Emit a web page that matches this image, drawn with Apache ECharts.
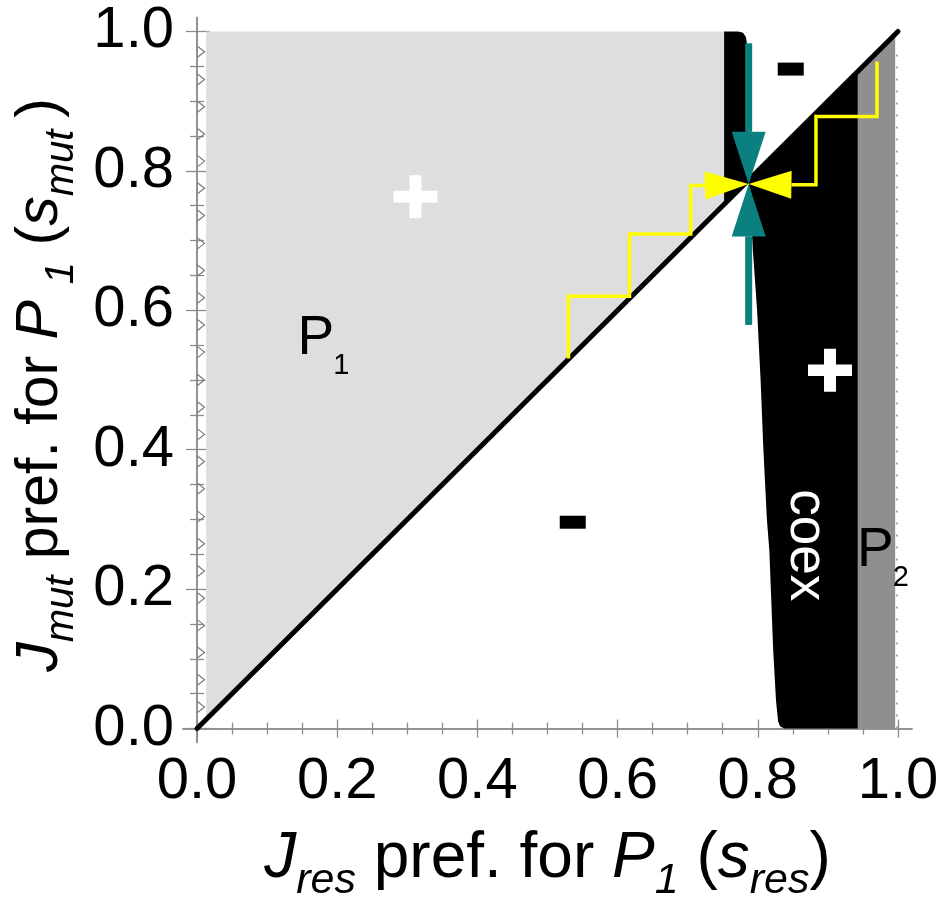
<!DOCTYPE html>
<html>
<head>
<meta charset="utf-8">
<script src="https://cdn.jsdelivr.net/npm/echarts@6/dist/echarts.min.js"></script>
<style>
  html, body { margin: 0; padding: 0; background: #fff; }
  #chart { width: 946px; height: 904px; }
</style>
</head>
<body>
<div id="chart"></div>
<script>
// ---- axis ticks ----
const majorTicks = [0, 0.2, 0.4, 0.6, 0.8, 1.0];
const minorTicks = [0.05, 0.1, 0.15, 0.25, 0.3, 0.35, 0.45, 0.5, 0.55, 0.65, 0.7, 0.75, 0.85, 0.9, 0.95];
const tickLabels = ['0.0', '0.2', '0.4', '0.6', '0.8', '1.0'];

// ---- outcome regions in the (s_res, s_mut) plane ----
const regionP1 = [[0.013, 0.013], [0.013, 1.0], [0.753, 1.0], [0.753, 0.753]];
const regionCoexUpper = [[0.752, 0.752], [0.752, 1.0], [0.772, 1.0], [0.779, 0.998], [0.783, 0.992],
  [0.785, 0.98], [0.786, 0.95], [0.787, 0.787]];
const regionCoexLower = [[0.787, 0.787], [0.9425, 0.9425], [0.9425, 0], [0.838, 0], [0.832, 0.003],
  [0.829, 0.01], [0.826, 0.04], [0.822, 0.112], [0.8165, 0.255], [0.813, 0.3], [0.808, 0.4],
  [0.804, 0.5], [0.799, 0.6], [0.793, 0.686], [0.789, 0.76], [0.787, 0.787]];
const regionP2 = [[0.941, 0], [0.941, 0.941], [0.996, 0.996], [0.996, 0]];

// ---- lines ----
const diagonal = [[0, 0], [1, 1]];
const chevronX = 0.0057;
const chevronY = [0.031, 0.070, 0.109, 0.148, 0.187, 0.226, 0.265, 0.304, 0.344, 0.383, 0.422, 0.461,
  0.500, 0.540, 0.579, 0.618, 0.657, 0.696, 0.736, 0.775, 0.814, 0.853, 0.892, 0.931, 0.971];
const dottedEdge = [[0.9986, 0], [0.9986, 0.975]];

// stepwise trait substitution paths toward the singular strategy
const pathLeft = [[0.530, 0.531], [0.530, 0.620], [0.617, 0.620], [0.617, 0.7095], [0.7043, 0.7095],
  [0.7043, 0.779], [0.7247, 0.779]];
const pathRight = [[0.970, 0.957], [0.970, 0.878], [0.883, 0.878], [0.883, 0.780], [0.848, 0.780]];
const singularPoint = [0.787, 0.781];
const shaftTop = [[0.787, 0.983], [0.787, 0.856]];
const shaftBottom = [[0.787, 0.579], [0.787, 0.706]];
const arrowBases = [[0.7247, 0.779], [0.848, 0.780], [0.787, 0.856], [0.787, 0.706]];

// ---- sign annotations and region names ----
const plusSigns = [[0.3117, 0.763], [0.903, 0.514]];
const minusSigns = [[0.847, 0.946], [0.536, 0.296]];
const regionNamePoints = [[0.1434, 0.5316], [0.9415, 0.2275]];
const regionNames = ['P', 'P'];
const regionNameSubs = ['1', '2'];
const coexPoint = [[0.8688, 0.263]];
const coexText = 'coex';

// ---- styling ----
const FONT = '"Liberation Sans", Arial, Helvetica, sans-serif';
const YELLOW = '#ffff00';
const TEAL = '#0a8080';
const arrowColors = [YELLOW, YELLOW, TEAL, TEAL];
const arrowHalfWidth = [14, 14, 17, 17];
const frameColor = '#8c8c8c';

const chart = echarts.init(document.getElementById('chart'), null, { renderer: 'canvas' });

function polygonSeries(name, pts, fill, z) {
  return {
    type: 'custom', name, coordinateSystem: 'cartesian2d', xAxisIndex: 0, yAxisIndex: 0,
    z, silent: true, data: pts,
    renderItem(params, api) {
      if (params.dataIndex !== 0) return null;
      return { type: 'polygon', shape: { points: pts.map(p => api.coord(p)) }, style: { fill: fill } };
    }
  };
}

function lineSeries(name, data, color, width, z, extra) {
  return Object.assign({
    type: 'line', name, data, xAxisIndex: 0, yAxisIndex: 0, z, silent: true,
    symbol: 'none', lineStyle: { color, width, cap: 'butt', join: 'miter' }
  }, extra || {});
}

// Title text with italic / subscript runs laid out along one baseline
const measureCtx = document.createElement('canvas').getContext('2d');
function fontStr(size, italic) { return (italic ? 'italic ' : '') + size + 'px ' + FONT; }
function buildRuns(parts, mainSize, subSize, subShift) {
  let x = 0;
  const kids = [];
  parts.forEach(p => {
    const size = p.sub ? subSize : mainSize;
    const f = fontStr(size, p.it);
    measureCtx.font = f;
    const w = measureCtx.measureText(p.t).width;
    kids.push({
      type: 'text', x: x, y: p.sub ? subShift : 0,
      style: { text: p.t, font: f, fill: '#000', align: 'left', verticalAlign: 'middle',
               textAlign: 'left', textVerticalAlign: 'middle' }
    });
    x += w;
  });
  kids.forEach(k => { k.x -= x / 2; });
  return kids;
}

const xTitleParts = [
  { t: 'J', it: true }, { t: 'res', it: true, sub: true }, { t: ' pref. for ' },
  { t: 'P', it: true }, { t: '1', it: true, sub: true }, { t: ' (' },
  { t: 's', it: true }, { t: 'res', it: true, sub: true }, { t: ')' }
];
const yTitleParts = [
  { t: 'J', it: true }, { t: 'mut', it: true, sub: true }, { t: ' pref. for ' },
  { t: 'P', it: true }, { t: '\u2009\u20091', it: true, sub: true }, { t: ' (' },
  { t: 's', it: true }, { t: 'mut', it: true, sub: true }, { t: '\u2009)' }
];

const labelFormatter = v => {
  const i = majorTicks.findIndex(t => Math.abs(t - v) < 1e-9);
  return i >= 0 ? tickLabels[i] : '';
};

function xAxisCfg(gridIndex, position, ticks, len, labels) {
  return {
    type: 'value', gridIndex, position, min: -0.02, max: 1.02,
    axisLine: { show: gridIndex === 0, lineStyle: { color: frameColor, width: 1.5 } },
    axisTick: { show: true, inside: true, length: len, customValues: ticks,
                lineStyle: { color: frameColor, width: 1.3 } },
    axisLabel: { show: labels, customValues: majorTicks, formatter: labelFormatter,
                 fontFamily: FONT, fontSize: 58, color: '#000', margin: 10 },
    splitLine: { show: false }
  };
}
function yAxisCfg(gridIndex, position, ticks, len, labels) {
  return {
    type: 'value', gridIndex, position, min: -0.02, max: 1.02,
    axisLine: { show: gridIndex === 0, lineStyle: { color: frameColor, width: 1.5 } },
    axisTick: { show: true, inside: true, length: len, customValues: ticks,
                lineStyle: { color: frameColor, width: 1.3 } },
    axisLabel: { show: labels, customValues: majorTicks, formatter: labelFormatter,
                 fontFamily: FONT, fontSize: 58, color: '#000', margin: 9 },
    splitLine: { show: false }
  };
}

const gridRect = { left: 183, top: 17.5, width: 729, height: 725 };

const option = {
  animation: false,
  backgroundColor: '#fff',
  grid: [Object.assign({}, gridRect), Object.assign({}, gridRect)],
  xAxis: [
    xAxisCfg(0, 'bottom', majorTicks, 9, true),
    xAxisCfg(0, 'top', majorTicks, 9, false),
    xAxisCfg(1, 'bottom', minorTicks, 6, false),
    xAxisCfg(1, 'top', minorTicks, 6, false)
  ],
  yAxis: [
    yAxisCfg(0, 'left', majorTicks, 13, true),
    yAxisCfg(0, 'right', majorTicks, 11, false),
    yAxisCfg(1, 'left', minorTicks, 7, false),
    yAxisCfg(1, 'right', minorTicks, 7, false)
  ],
  graphic: [
    { type: 'group', x: 547.5, y: 859.5, children: buildRuns(xTitleParts, 64, 43, 22) },
    { type: 'group', x: 41, y: 385, rotation: Math.PI / 2,
      children: buildRuns(yTitleParts, 59, 40, 21) }
  ],
  series: [
    polygonSeries('P1 wins', regionP1, '#dedede', 1),
    polygonSeries('P2 wins', regionP2, '#8f8f8f', 1),
    polygonSeries('coexistence (upper)', regionCoexUpper, '#000', 2),
    polygonSeries('coexistence (lower)', regionCoexLower, '#000', 2),
    lineSeries('diagonal', diagonal, '#000', 5, 3, { lineStyle: { color: '#000', width: 5, cap: 'round' } }),
    {
      // open ">" markers along the left boundary
      type: 'custom', name: 'boundary', coordinateSystem: 'cartesian2d', xAxisIndex: 0, yAxisIndex: 0,
      z: 3, silent: true, data: chevronY.map(y => [chevronX, y]),
      renderItem(params, api) {
        const c = api.coord([api.value(0), api.value(1)]);
        return {
          type: 'polyline',
          shape: { points: [[c[0] - 3.5, c[1] - 5.5], [c[0] + 3.5, c[1]], [c[0] - 3.5, c[1] + 5.5]] },
          style: { stroke: '#7a7a7a', lineWidth: 1.2, fill: null }
        };
      }
    },
    lineSeries('edge', dottedEdge, '#a0a0a0', 2, 3, { lineStyle: { color: '#a8a8a8', width: 2, type: [2, 10] } }),
    lineSeries('path left', pathLeft, YELLOW, 3.5, 4),
    lineSeries('path right', pathRight, YELLOW, 3.5, 4),
    lineSeries('shaft top', shaftTop, TEAL, 7, 4),
    lineSeries('shaft bottom', shaftBottom, TEAL, 7, 4),
    {
      type: 'custom', name: 'arrowheads', coordinateSystem: 'cartesian2d', xAxisIndex: 0, yAxisIndex: 0,
      z: 5, silent: true, data: arrowBases,
      renderItem(params, api) {
        const b = api.coord([api.value(0), api.value(1)]);
        const t = api.coord(singularPoint);
        const dx = t[0] - b[0], dy = t[1] - b[1];
        const L = Math.hypot(dx, dy) || 1;
        const nx = -dy / L, ny = dx / L;
        const hw = arrowHalfWidth[params.dataIndex];
        return {
          type: 'polygon',
          shape: { points: [[b[0] + nx * hw, b[1] + ny * hw], [b[0] - nx * hw, b[1] - ny * hw], t] },
          style: { fill: arrowColors[params.dataIndex] }
        };
      }
    },
    {
      type: 'scatter', name: 'plus', xAxisIndex: 0, yAxisIndex: 0, z: 6, silent: true,
      data: plusSigns,
      symbol: 'path://M16,0h12v16h16v12h-16v16h-12v-16h-16v-12h16z', symbolSize: [44, 43],
      itemStyle: { color: '#fff', opacity: 1 }
    },
    {
      type: 'scatter', name: 'minus', xAxisIndex: 0, yAxisIndex: 0, z: 6, silent: true,
      data: minusSigns, symbol: 'rect', symbolSize: [26, 13],
      itemStyle: { color: '#000', opacity: 1 }
    },
    {
      type: 'custom', name: 'region names', coordinateSystem: 'cartesian2d', xAxisIndex: 0, yAxisIndex: 0,
      z: 7, silent: true, data: regionNamePoints,
      renderItem(params, api) {
        const p = api.coord([api.value(0), api.value(1)]);
        const main = regionNames[params.dataIndex];
        const sub = regionNameSubs[params.dataIndex];
        const mf = fontStr(55, false), sf = fontStr(29, false);
        measureCtx.font = mf;
        const w = measureCtx.measureText(main).width;
        return {
          type: 'group',
          children: [
            { type: 'text', x: p[0], y: p[1] - 0.3465 * 55,
              style: { text: main, font: mf, fill: '#000', align: 'left', verticalAlign: 'middle',
                       textAlign: 'left', textVerticalAlign: 'middle' } },
            { type: 'text', x: p[0] + w - 1, y: p[1] + 18 - 0.3465 * 29,
              style: { text: sub, font: sf, fill: '#000', align: 'left', verticalAlign: 'middle',
                       textAlign: 'left', textVerticalAlign: 'middle' } }
          ]
        };
      }
    },
    {
      type: 'custom', name: 'coex label', coordinateSystem: 'cartesian2d', xAxisIndex: 0, yAxisIndex: 0,
      z: 7, silent: true, data: coexPoint,
      renderItem(params, api) {
        const p = api.coord([api.value(0), api.value(1)]);
        return {
          type: 'text', x: p[0], y: p[1], rotation: -Math.PI / 2,
          style: { text: coexText, font: fontStr(53, false), fill: '#fff', align: 'center',
                   verticalAlign: 'middle', textAlign: 'center', textVerticalAlign: 'middle' }
        };
      }
    }
  ]
};

chart.setOption(option);
</script>
</body>
</html>
